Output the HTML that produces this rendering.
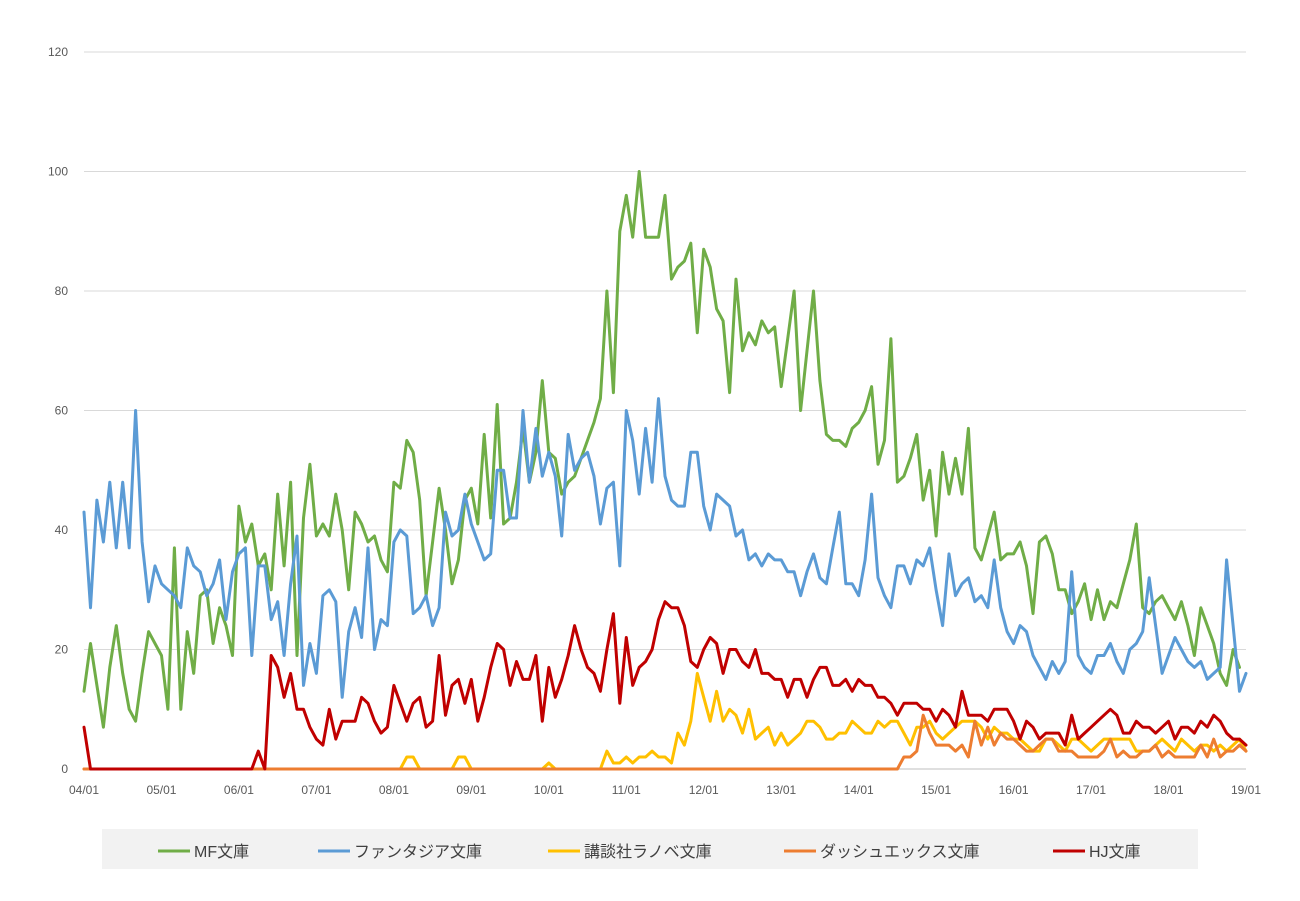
<!DOCTYPE html>
<html><head><meta charset="utf-8">
<style>
html,body{margin:0;padding:0;background:#fff;}
svg{display:block;font-family:"Liberation Sans","Noto Sans CJK JP",sans-serif;}
</style></head>
<body>
<svg id="chart" width="1300" height="901" viewBox="0 0 1300 901" xmlns="http://www.w3.org/2000/svg">
<rect width="1300" height="901" fill="#fff"/>
<g id="grid"></g>
<g id="ylab"></g>
<g id="xlab"></g>
<g id="series"></g>
<g id="legend">
<rect x="102" y="829" width="1096" height="40" fill="#f2f2f2"/>
</g>
</svg>
<script>
const yTicks=[0,20,40,60,80,100,120];
const xTickLabels=["04/01","05/01","06/01","07/01","08/01","09/01","10/01","11/01","12/01","13/01","14/01","15/01","16/01","17/01","18/01","19/01"];
const seriesNames=["MF文庫","ファンタジア文庫","講談社ラノベ文庫","ダッシュエックス文庫","HJ文庫"];
const mfValues=[13,21,14,7,17,24,16,10,8,16,23,21,19,10,37,10,23,16,29,30,21,27,24,19,44,38,41,34,36,30,46,34,48,19,42,51,39,41,39,46,40,30,43,41,38,39,35,33,48,47,55,53,45,29,38,47,40,31,35,45,47,41,56,42,61,41,42,48,57,48,53,65,53,52,46,48,49,52,55,58,62,80,63,90,96,89,100,89,89,89,96,82,84,85,88,73,87,84,77,75,63,82,70,73,71,75,73,74,64,72,80,60,70,80,65,56,55,55,54,57,58,60,64,51,55,72,48,49,52,56,45,50,39,53,46,52,46,57,37,35,39,43,35,36,36,38,34,26,38,39,36,30,30,26,28,31,25,30,25,28,27,31,35,41,27,26,28,29,27,25,28,24,19,27,24,21,16,14,20,17];
const fantasiaValues=[43,27,45,38,48,37,48,37,60,38,28,34,31,30,29,27,37,34,33,29,31,35,25,33,36,37,19,34,34,25,28,19,31,39,14,21,16,29,30,28,12,23,27,22,37,20,25,24,38,40,39,26,27,29,24,27,43,39,40,46,41,38,35,36,50,50,42,42,60,48,57,49,53,49,39,56,50,52,53,49,41,47,48,34,60,55,46,57,48,62,49,45,44,44,53,53,44,40,46,45,44,39,40,35,36,34,36,35,35,33,33,29,33,36,32,31,37,43,31,31,29,35,46,32,29,27,34,34,31,35,34,37,30,24,36,29,31,32,28,29,27,35,27,23,21,24,23,19,17,15,18,16,18,33,19,17,16,19,19,21,18,16,20,21,23,32,24,16,19,22,20,18,17,18,15,16,17,35,24,13,16];
const kodanshaValues=[0,0,0,0,0,0,0,0,0,0,0,0,0,0,0,0,0,0,0,0,0,0,0,0,0,0,0,0,0,0,0,0,0,0,0,0,0,0,0,0,0,0,0,0,0,0,0,0,0,0,2,2,0,0,0,0,0,0,2,2,0,0,0,0,0,0,0,0,0,0,0,0,1,0,0,0,0,0,0,0,0,3,1,1,2,1,2,2,3,2,2,1,6,4,8,16,12,8,13,8,10,9,6,10,5,6,7,4,6,4,5,6,8,8,7,5,5,6,6,8,7,6,6,8,7,8,8,6,4,7,7,8,6,5,6,7,8,8,8,7,5,7,6,6,5,5,4,3,3,5,5,4,3,5,5,4,3,4,5,5,5,5,5,3,3,3,4,5,4,3,5,4,3,4,4,3,4,3,4,5,3];
const dashxValues=[0,0,0,0,0,0,0,0,0,0,0,0,0,0,0,0,0,0,0,0,0,0,0,0,0,0,0,0,0,0,0,0,0,0,0,0,0,0,0,0,0,0,0,0,0,0,0,0,0,0,0,0,0,0,0,0,0,0,0,0,0,0,0,0,0,0,0,0,0,0,0,0,0,0,0,0,0,0,0,0,0,0,0,0,0,0,0,0,0,0,0,0,0,0,0,0,0,0,0,0,0,0,0,0,0,0,0,0,0,0,0,0,0,0,0,0,0,0,0,0,0,0,0,0,0,0,0,2,2,3,9,6,4,4,4,3,4,2,8,4,7,4,6,5,5,4,3,3,4,5,5,3,3,3,2,2,2,2,3,5,2,3,2,2,3,3,4,2,3,2,2,2,2,4,2,5,2,3,3,4,3];
const hjValues=[7,0,0,0,0,0,0,0,0,0,0,0,0,0,0,0,0,0,0,0,0,0,0,0,0,0,0,3,0,19,17,12,16,10,10,7,5,4,10,5,8,8,8,12,11,8,6,7,14,11,8,11,12,7,8,19,9,14,15,11,15,8,12,17,21,20,14,18,15,15,19,8,17,12,15,19,24,20,17,16,13,20,26,11,22,14,17,18,20,25,28,27,27,24,18,17,20,22,21,16,20,20,18,17,20,16,16,15,15,12,15,15,12,15,17,17,14,14,15,13,15,14,14,12,12,11,9,11,11,11,10,10,8,10,9,7,13,9,9,9,8,10,10,10,8,5,8,7,5,6,6,6,4,9,5,6,7,8,9,10,9,6,6,8,7,7,6,7,8,5,7,7,6,8,7,9,8,6,5,5,4];
const allSeries=[mfValues,fantasiaValues,kodanshaValues,dashxValues,hjValues];
const colors=["#70ad47","#5b9bd5","#ffc000","#ed7d31","#c00000"];
const slugs=["mf","fantasia","kodansha","dashx","hj"];

const NS="http://www.w3.org/2000/svg";
const X0=84,X1=1246,Y0=769,Y1=52,YMAX=120,N=181;
function xScale(i){return X0+(X1-X0)*i/(N-1);}
function yScale(v){return Y0-(Y0-Y1)*v/YMAX;}
function mk(tag,attrs,parent){const e=document.createElementNS(NS,tag);for(const k in attrs)e.setAttribute(k,attrs[k]);parent.appendChild(e);return e;}

const grid=document.getElementById('grid'),ylab=document.getElementById('ylab'),xlab=document.getElementById('xlab'),ser=document.getElementById('series'),leg=document.getElementById('legend');
yTicks.forEach(t=>{
  const l=mk('line',{x1:X0,x2:X1,y1:yScale(t),y2:yScale(t),stroke:t===0?'#bfbfbf':'#d9d9d9','stroke-width':1},grid);
  
  
  const tx=mk('text',{x:68,y:yScale(t)+4,'text-anchor':'end','font-size':12,fill:'#595959'},ylab);
  tx.textContent=t;
  
  
});
xTickLabels.forEach((s,k)=>{
  const tx=mk('text',{x:xScale(k*12),y:794,'text-anchor':'middle','font-size':12,fill:'#595959'},xlab);
  tx.textContent=s;
  
  
});
allSeries.forEach((vals,s)=>{
  const d=vals.map((v,i)=>(i?'L':'M')+xScale(i).toFixed(1)+' '+yScale(v).toFixed(1)).join(' ');
  const p=mk('path',{d:d,fill:'none',stroke:colors[s],'stroke-width':3,'stroke-linejoin':'round','stroke-linecap':'round'},ser);
  
  
});
const legX=[158,318,548,784,1053];
seriesNames.forEach((n,s)=>{
  const g=mk('g',{},leg);
  
  
  mk('line',{x1:legX[s],x2:legX[s]+32,y1:851,y2:851,stroke:colors[s],'stroke-width':3},g);
  const t=mk('text',{x:legX[s]+36,y:857,'font-size':16,fill:'#404040'},g);
  t.textContent=n;
});
</script>
</body></html>
